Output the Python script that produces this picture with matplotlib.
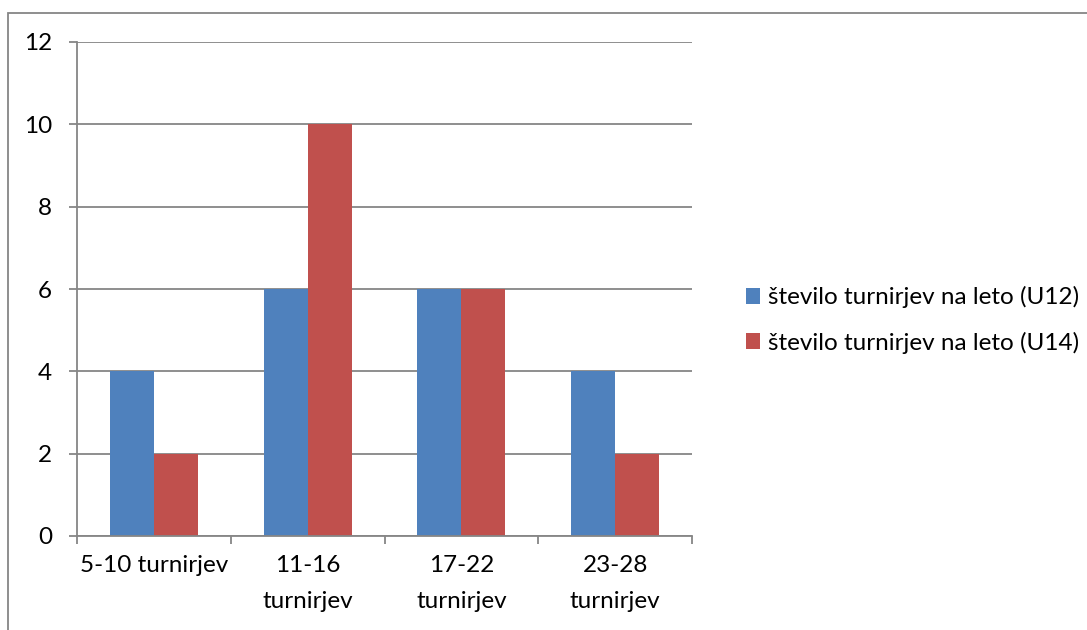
import matplotlib
matplotlib.use("Agg")
import matplotlib.pyplot as plt
import numpy as np
from matplotlib.patches import Rectangle

categories = ["5-10 turnirjev", "11-16\nturnirjev", "17-22\nturnirjev", "23-28\nturnirjev"]
u12 = [4, 6, 6, 4]
u14 = [2, 10, 6, 2]
series_labels = ["število turnirjev na leto (U12)", "število turnirjev na leto (U14)"]
yticks = [0, 2, 4, 6, 8, 10, 12]

BLUE = "#4F81BD"
RED = "#C0504D"
GRID = "#868686"
FONT = "Lato"
FS = 17.5

W, H = 1087, 630
fig = plt.figure(figsize=(W / 100, H / 100), dpi=100)
fig.patch.set_facecolor("white")

# outer chart frame
fig.patches.append(Rectangle((8 / W, -0.1), 1.2, (H - 13) / H + 0.1,
                             transform=fig.transFigure, fill=False,
                             edgecolor=GRID, linewidth=1.3))

ax = fig.add_axes([77 / W, 1 - 536 / H, (692 - 77) / W, (536 - 42) / H])
x = np.arange(len(categories))
bw = 0.286
b1 = ax.bar(x - bw / 2, u12, bw, color=BLUE, label=series_labels[0], zorder=3)
b2 = ax.bar(x + bw / 2, u14, bw, color=RED, label=series_labels[1], zorder=3)

ax.set_xlim(-0.5, len(categories) - 0.5)
ax.set_ylim(0, 12)
ax.set_yticks(yticks)
ax.set_yticklabels([str(v) for v in yticks], fontname=FONT, fontsize=FS)
ax.yaxis.grid(True, color=GRID, linewidth=1.3, zorder=0)
ax.tick_params(axis="y", length=6, width=1.3, color=GRID, pad=12)

# category boundary ticks on x axis
ax.set_xticks(np.arange(-0.5, len(categories) + 0.5, 1.0))
ax.set_xticklabels([])
ax.tick_params(axis="x", length=6, width=1.3, color=GRID)
ax.set_xticks(x, minor=True)
ax.set_xticklabels(categories, minor=True, fontname=FONT, fontsize=FS,
                   linespacing=1.85)
ax.tick_params(axis="x", which="minor", length=0, pad=14)

for s in ["top", "right"]:
    ax.spines[s].set_visible(False)
for s in ["left", "bottom"]:
    ax.spines[s].set_color(GRID)
    ax.spines[s].set_linewidth(1.3)
ax.spines["bottom"].set_zorder(4)

leg = fig.legend(handles=[b1, b2], labels=series_labels,
                 loc="center left", bbox_to_anchor=(724 / W, 1 - 320 / H),
                 frameon=False, prop={"family": FONT, "size": FS},
                 handlelength=0.6, handleheight=0.6, handletextpad=0.3,
                 labelspacing=0.95)

fig.savefig("out.png", dpi=100)
